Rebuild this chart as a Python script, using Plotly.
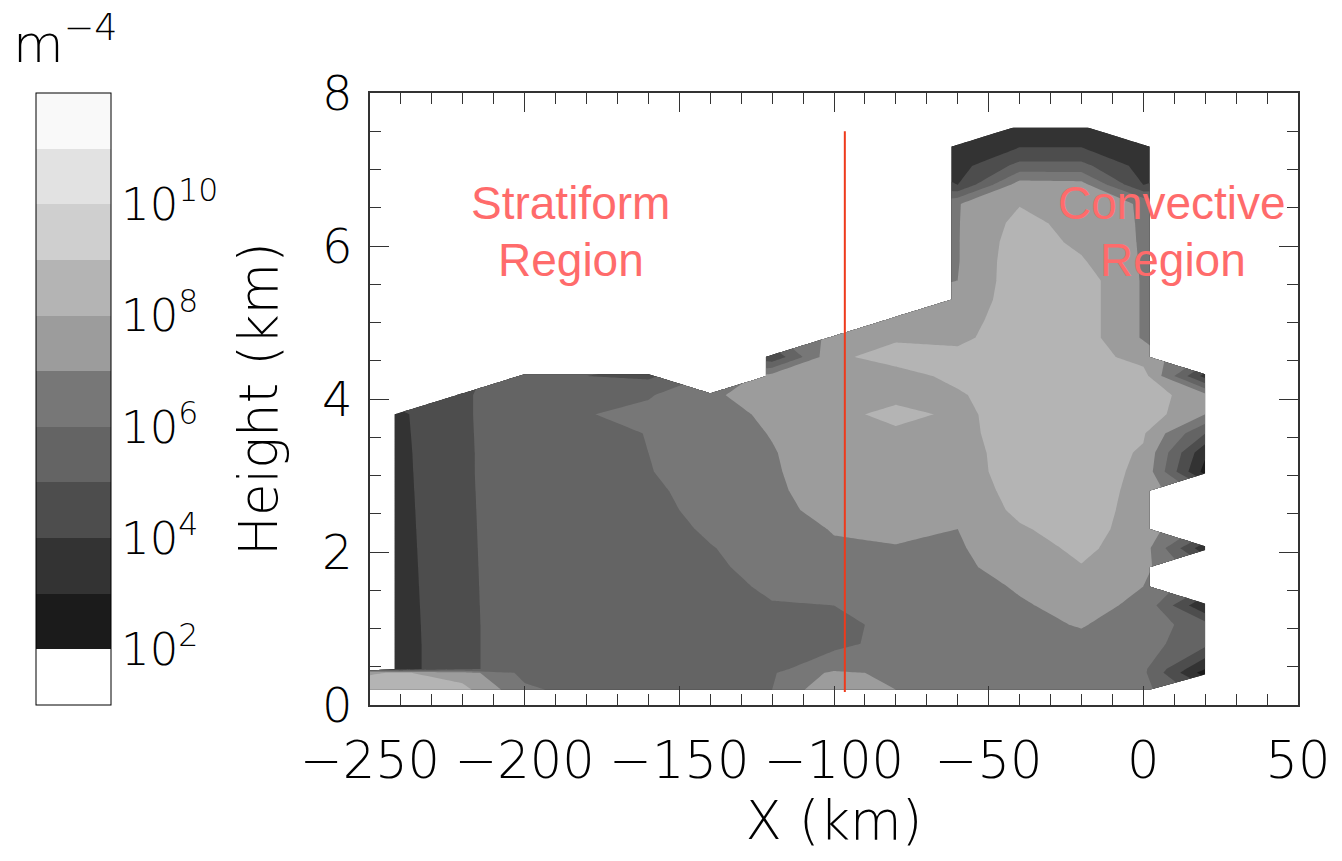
import plotly.graph_objects as go

N = None
# grid columns (km) and rows (km)
x_km = [-260, -240, -220, -200, -180, -160, -140, -120, -100, -80, -60, -40, -20, 0, 20]
y_km = [0.2, 0.42, 0.47, 0.8, 1.05, 1.3, 1.55, 1.8, 2.05, 2.3, 2.55, 2.8, 3.05, 3.3,
        3.55, 3.8, 4.05, 4.3, 4.55, 4.8, 5.05, 5.3, 5.55, 5.8, 6.05, 6.3, 6.55, 6.8,
        7.05, 7.3, 7.55]

# log10 of concentration (m^-4); None = no data
log_conc = [
    [8.4, 8.6, 8.3, 6.2, 5.6, 5.5, 5.5, 6.0, 7.9, 7.0, 6.6, 6.5, 6.5, 6.3, N],
    [7.7, 8.1, 7.5, 5.7, 5.5, 5.5, 5.5, 5.9, 7.2, 6.8, 6.5, 6.5, 6.5, 6.2, 2.5],
    [N, 3.6, 4.8, 5.5, 5.5, 5.5, 5.5, 5.7, 6.8, 6.7, 6.5, 6.5, 6.5, 6.2, 3.0],
    [N, 3.6, 4.8, 5.5, 5.5, 5.5, 5.5, 5.7, 5.7, 6.4, 6.4, 6.6, 6.8, 6.4, 5.3],
    [N, 3.62, 4.8, 5.5, 5.5, 5.5, 5.5, 5.8, 5.6, 6.4, 6.4, 6.8, 7.05, 6.6, 5.4],
    [N, 3.64, 4.81, 5.5, 5.5, 5.5, 5.6, 5.95, 6.0, 6.5, 6.5, 6.9, 7.3, 6.8, 3.0],
    [N, 3.66, 4.82, 5.5, 5.5, 5.5, 5.7, 6.15, 6.3, 6.6, 6.6, 7.1, 7.6, 7.0, N],
    [N, 3.68, 4.83, 5.5, 5.5, 5.5, 5.85, 6.3, 6.6, 6.75, 6.8, 7.4, 7.95, 7.3, N],
    [N, 3.7, 4.84, 5.5, 5.5, 5.5, 5.95, 6.45, 6.9, 6.95, 6.9, 7.6, 8.2, 7.5, 3.3],
    [N, 3.72, 4.85, 5.5, 5.5, 5.55, 6.15, 6.6, 7.05, 7.2, 7.0, 7.9, 8.4, 7.55, N],
    [N, 3.74, 4.86, 5.5, 5.5, 5.7, 6.3, 6.75, 7.3, 7.3, 7.3, 8.2, 8.5, 7.6, N],
    [N, 3.76, 4.87, 5.5, 5.5, 5.8, 6.4, 6.85, 7.4, 7.4, 7.5, 8.3, 8.5, 7.7, N],
    [N, 3.78, 4.88, 5.5, 5.5, 5.95, 6.5, 6.9, 7.5, 7.5, 7.6, 8.4, 8.5, 7.8, 2.6],
    [N, 3.8, 4.88, 5.5, 5.5, 6.0, 6.55, 6.95, 7.5, 7.6, 7.65, 8.4, 8.5, 7.9, 3.2],
    [N, 3.83, 4.89, 5.5, 5.5, 6.05, 6.6, 7.04, 7.55, 7.75, 7.7, 8.5, 8.5, 8.1, 5.0],
    [N, 3.86, 4.9, 5.5, 5.95, 6.3, 6.7, 7.15, 7.6, 8.4, 7.75, 8.5, 8.5, 8.6, 7.0],
    [N, N, 4.9, 5.5, 5.6, 5.9, 6.9, 7.3, 7.6, 7.6, 7.9, 8.5, 8.5, 8.6, 7.3],
    [N, N, N, 5.1, 5.0, 4.8, N, 7.4, 7.7, 7.7, 8.2, 8.5, 8.5, 8.4, 3.6],
    [N, N, N, N, N, N, N, 4.2, 7.85, 8.3, 8.25, 8.5, 8.5, 7.6, N],
    [N, N, N, N, N, N, N, N, 7.3, 7.9, 7.8, 8.5, 8.5, 6.9, N],
    [N, N, N, N, N, N, N, N, N, 7.5, 7.6, 8.5, 8.5, 6.9, N],
    [N, N, N, N, N, N, N, N, N, N, 7.2, 8.6, 8.5, 6.9, N],
    [N, N, N, N, N, N, N, N, N, N, 7.0, 8.6, 8.5, 6.9, N],
    [N, N, N, N, N, N, N, N, N, N, 6.95, 8.6, 8.1, 6.9, N],
    [N, N, N, N, N, N, N, N, N, N, 6.95, 8.5, 7.8, 6.9, N],
    [N, N, N, N, N, N, N, N, N, N, 6.95, 8.3, 7.65, 6.9, N],
    [N, N, N, N, N, N, N, N, N, N, 6.95, 7.95, 7.5, 6.9, N],
    [N, N, N, N, N, N, N, N, N, N, 4.0, 7.5, 7.4, 4.0, N],
    [N, N, N, N, N, N, N, N, N, N, 3.6, 5.3, 5.3, 3.6, N],
    [N, N, N, N, N, N, N, N, N, N, 3.2, 3.95, 3.95, 3.2, N],
    [N, N, N, N, N, N, N, N, N, N, N, 3.3, 3.3, N, N],
]

band_colors = ["#ffffff", "#1b1b1b", "#333333", "#4d4d4d", "#646464", "#777777",
               "#9c9c9c", "#b4b4b4", "#cfcfcf", "#e2e2e2", "#f9f9f9"]
cbar_tickvals = [2, 4, 6, 8, 10]
cbar_ticktext = ["10<sup>2</sup>", "10<sup>4</sup>", "10<sup>6</sup>", "10<sup>8</sup>", "10<sup>10</sup>"]

divider_x = [-96.5, -96.5]
divider_y = [0.17, 7.5]

region_labels = ["Stratiform", "Region", "Convective", "Region"]
region_x = [-185.2, -185.0, 9.2, 9.5]
region_y = [6.56, 5.82, 6.56, 5.82]

# stepwise colorscale: one flat colour per decade band
nb = len(band_colors)
cscale = []
for i, c in enumerate(band_colors):
    cscale.append([i / nb, c])
    cscale.append([(i + 1) / nb, c])

Y_TICK_FONT = dict(family="DejaVu Sans", size=48, color="black", weight=200)
X_TICK_FONT = dict(family="DejaVu Sans", size=51, color="black", weight=200)
TITLE_FONT = dict(family="DejaVu Sans", size=53, color="black", weight=200)

fig = go.Figure()
fig.add_trace(go.Contour(
    x=x_km, y=y_km, z=log_conc,
    connectgaps=False,
    autocontour=False,
    contours=dict(start=2, end=11, size=1, coloring="fill", showlines=False),
    line=dict(width=0, smoothing=0),
    colorscale=cscale,
    showscale=False,
    hoverinfo="skip",
))

# colour bar for the decade bands (1..12 in log10 units)
fig.add_trace(go.Scatter(
    x=[None], y=[None], mode="markers", showlegend=False, hoverinfo="skip",
    marker=dict(color=[1], cmin=1, cmax=12, colorscale=cscale, showscale=True,
                colorbar=dict(
                    x=(33 - 370) / 935, xanchor="left", xref="paper",
                    y=0, yanchor="bottom", len=1, lenmode="fraction",
                    thickness=75, thicknessmode="pixels", xpad=0, ypad=0,
                    outlinewidth=1, outlinecolor="black",
                    tickvals=cbar_tickvals, ticktext=cbar_ticktext,
                    ticks="outside", ticklen=1, tickcolor="rgba(0,0,0,0)",
                    tickfont=dict(family="DejaVu Sans", size=45, color="black", weight=200),
                )),
))

fig.add_trace(go.Scatter(x=divider_x, y=divider_y, mode="lines",
                         line=dict(color="#ee3a1c", width=2), showlegend=False,
                         hoverinfo="skip"))

for t, xx, yy in zip(region_labels, region_x, region_y):
    fig.add_annotation(x=xx, y=yy, xref="x", yref="y", text=t, showarrow=False,
                       font=dict(family="Liberation Sans", size=46, color="#ff6b6b"),
                       xanchor="center", yanchor="middle")

fig.add_annotation(x=(8 - 370) / 935, y=(705 - 4) / 612, xref="paper", yref="paper",
                   text="m<sup>\u22124</sup>", showarrow=False, xanchor="left", yanchor="top",
                   font=dict(family="DejaVu Sans", size=52, color="black", weight=200))

fig.update_xaxes(range=[-250, 50], dtick=50, tick0=0, ticks="inside", ticklen=19,
                 tickwidth=1, tickcolor="#333", showline=True, linecolor="#333", linewidth=1.5,
                 mirror="ticks", showgrid=False, zeroline=False,
                 minor=dict(dtick=10, ticks="inside", ticklen=11, tickcolor="#333", tickwidth=1),
                 tickfont=X_TICK_FONT, ticklabelstandoff=10,
                 title=dict(text="X (km)", font=TITLE_FONT, standoff=6))
fig.update_yaxes(range=[0, 8], dtick=2, tick0=0, ticks="inside", ticklen=19,
                 tickwidth=1, tickcolor="#333", showline=True, linecolor="#333", linewidth=1.5,
                 mirror="ticks", showgrid=False, zeroline=False,
                 minor=dict(dtick=0.5, ticks="inside", ticklen=11, tickcolor="#333", tickwidth=1),
                 tickfont=Y_TICK_FONT, ticklabelstandoff=6,
                 title=dict(text="Height (km)", font=TITLE_FONT, standoff=28))

fig.update_layout(width=1342, height=861, margin=dict(l=370, r=37, t=93, b=156),
                  paper_bgcolor="white", plot_bgcolor="white", showlegend=False)

fig.write_html("out.html")
